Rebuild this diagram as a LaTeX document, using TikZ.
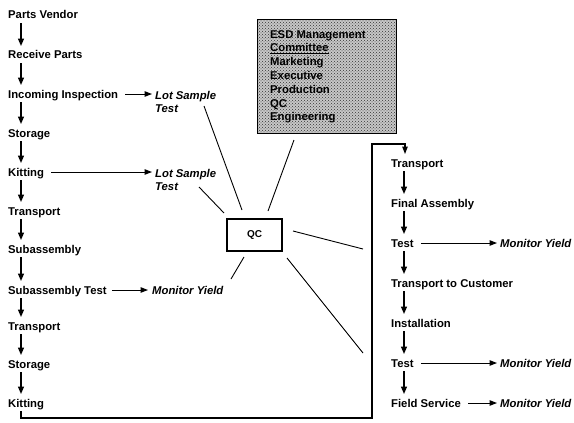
\documentclass[tikz,border=0pt]{standalone}
\usepackage{fontspec}
\setmainfont{Liberation Sans}
\usetikzlibrary{arrows.meta,patterns,calc}
\begin{document}
\begin{tikzpicture}[x=1pt,y=-1pt,
  lbl/.style={anchor=base west,inner sep=0pt,font=\fontsize{11.3}{13.6}\selectfont\bfseries},
  itl/.style={lbl,font=\fontsize{11.3}{13.6}\selectfont\bfseries\itshape},
  ilbl/.style={anchor=west,inner sep=0pt,align=left,font=\fontsize{11.3}{13.4}\selectfont\bfseries\itshape},
  flow/.style={line width=1.4pt,-{Triangle[length=7.5pt,width=6pt]}},
  hflow/.style={line width=1pt,-{Triangle[length=7.5pt,width=5.5pt]}},
  link/.style={line width=0.9pt}]
\useasboundingbox (0,0) rectangle (574,423);
% left column
\node[lbl] (pv) at (8,19) {Parts Vendor};
\node[lbl] (rp) at (8,59) {Receive Parts};
\node[lbl] (ii) at (8,98) {Incoming Inspection};
\node[lbl] (s1) at (8,137) {Storage};
\node[lbl] (k1) at (8,176) {Kitting};
\node[lbl] (t1) at (8,215) {Transport};
\node[lbl] (sa) at (8,253) {Subassembly};
\node[lbl] (st) at (8,294) {Subassembly Test};
\node[lbl] (t2) at (8,330) {Transport};
\node[lbl] (s2) at (8,368) {Storage};
\node[lbl] (k2) at (8,407) {Kitting};
\foreach \a/\b in {pv/rp,rp/ii,ii/s1,s1/k1,k1/t1,t1/sa,sa/st,st/t2,t2/s2,s2/k2}
  \draw[flow] ($(\a.base west)+(13,4)$) -- ($(\b.base west)+(13,-13)$);
% side labels left
\node[ilbl] (ls1) at (155,102) {Lot Sample\\Test};
\node[ilbl] (ls2) at (155,180) {Lot Sample\\Test};
\node[itl] (my1) at (152,294) {Monitor Yield};
\draw[hflow] ($(ii.base east)+(7,-4)$) -- ($(ii.base east -| ls1.west)+(-3,-4)$);
\draw[hflow] ($(k1.base east)+(7,-4)$) -- ($(k1.base east -| ls2.west)+(-3,-4)$);
\draw[hflow] ($(st.base east)+(5,-4)$) -- ($(st.base east -| my1.west)+(-4,-4)$);
% ESD box
\node[draw,line width=1.3pt,preaction={fill=black!22},pattern=crosshatch dots,pattern color=black!80,
  minimum width=139pt,minimum height=114pt,anchor=north west,inner sep=0pt] (esd) at (257,19) {};
\node[anchor=north west,inner sep=0pt,align=left,font=\fontsize{11.3}{13.8}\selectfont\bfseries] (esdt) at (270,30)
  {ESD Management\\\underline{Committee}\\Marketing\\Executive\\Production\\QC\\Engineering};
% QC box
\node[draw,line width=1.2pt,minimum width=55pt,minimum height=32pt,inner sep=0pt,
  font=\fontsize{10}{12}\selectfont\bfseries] (qc) at (254.5,235) {QC};
% right column
\node[lbl] (r1) at (391,167) {Transport};
\node[lbl] (r2) at (391,207) {Final Assembly};
\node[lbl] (r3) at (391,247) {Test};
\node[lbl] (r4) at (391,287) {Transport to Customer};
\node[lbl] (r5) at (391,327) {Installation};
\node[lbl] (r6) at (391,367) {Test};
\node[lbl] (r7) at (391,407) {Field Service};
\foreach \a/\b in {r1/r2,r2/r3,r3/r4,r4/r5,r5/r6,r6/r7}
  \draw[flow] ($(\a.base west)+(13,4)$) -- ($(\b.base west)+(13,-13)$);
\node[itl] (my2) at (500,247) {Monitor Yield};
\node[itl] (my3) at (500,367) {Monitor Yield};
\node[itl] (my4) at (500,407) {Monitor Yield};
\draw[hflow] ($(r3.base east)+(7,-4)$) -- ($(r3.base east -| my2.west)+(-3,-4)$);
\draw[hflow] ($(r6.base east)+(7,-4)$) -- ($(r6.base east -| my3.west)+(-3,-4)$);
\draw[hflow] ($(r7.base east)+(7,-4)$) -- ($(r7.base east -| my4.west)+(-3,-4)$);
% bracket connector
\coordinate (bl) at (372,418);
\coordinate (tl) at (372,144);
\draw[hflow,line width=1.1pt] ($(k2.base west)+(13,4)$) |- (bl) -- (tl) -| ($(r1.base west)+(14,-13)$);
% lines to QC
\coordinate (q1) at (204,106); \coordinate (q1e) at (242,210);
\coordinate (q2) at (199,187); \coordinate (q2e) at (224,213);
\coordinate (q3) at (294,140); \coordinate (q3e) at (268,211);
\coordinate (q4) at (293,231); \coordinate (q4e) at (363,249);
\coordinate (q5) at (244,257); \coordinate (q5e) at (231,279);
\coordinate (q6) at (287,258); \coordinate (q6e) at (363,353);
\draw[link] (q1) -- (q1e);
\draw[link] (q2) -- (q2e);
\draw[link] (q3) -- (q3e);
\draw[link] (q4) -- (q4e);
\draw[link] (q5) -- (q5e);
\draw[link] (q6) -- (q6e);
\end{tikzpicture}
\end{document}
